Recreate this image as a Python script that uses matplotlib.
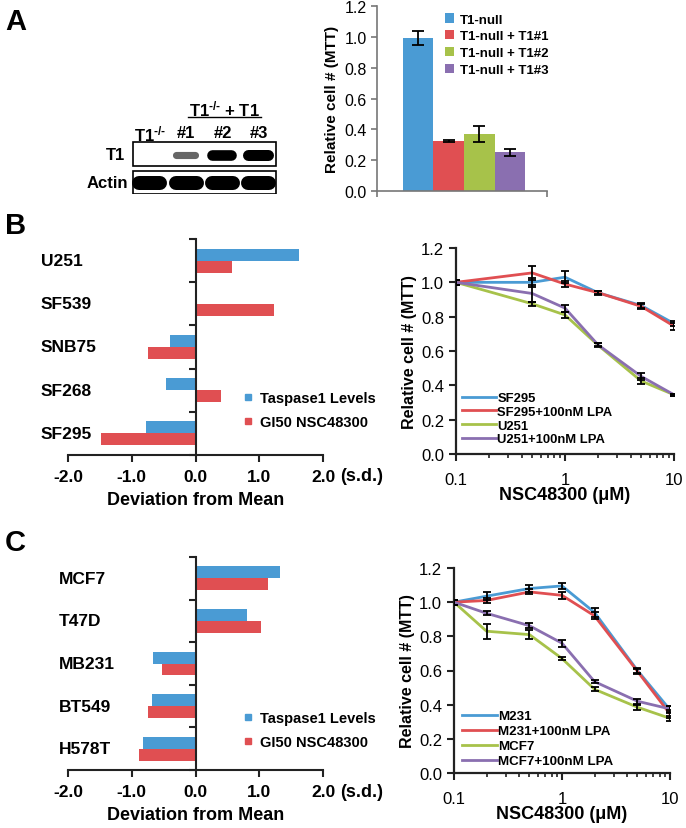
import matplotlib
matplotlib.use("Agg")
import matplotlib.pyplot as plt
from matplotlib.lines import Line2D
from matplotlib.patches import Rectangle
from matplotlib.transforms import blended_transform_factory

plt.rcParams['font.family'] = ['Liberation Sans', 'DejaVu Sans']
plt.rcParams['mathtext.fontset'] = 'custom'
plt.rcParams['mathtext.rm'] = 'Liberation Sans:bold'
plt.rcParams['mathtext.it'] = 'Liberation Sans:bold'
plt.rcParams['mathtext.bf'] = 'Liberation Sans:bold'
plt.rcParams['axes.unicode_minus'] = False

BLUE = '#4a9bd4'
RED = '#e04f52'
GREEN = '#a7c24a'
PURPLE = '#8a6fb0'

# ---- panel A data ----
a_labels = ['T1-null', 'T1-null + T1#1', 'T1-null + T1#2', 'T1-null + T1#3']
a_values = [0.99, 0.325, 0.37, 0.25]
a_errors = [0.045, 0.008, 0.05, 0.02]
blot_lanes = ['T1$^{\u2010/\u2010}$', '#1', '#2', '#3']
blot_t1 = [0.0, 0.45, 0.95, 1.0]
blot_actin = [1.0, 1.0, 1.0, 1.0]

# ---- panel B data ----
b_lines = ['U251', 'SF539', 'SNB75', 'SF268', 'SF295']
b_taspase = [1.62, 0.03, -0.40, -0.47, -0.77]
b_gi50 = [0.57, 1.23, -0.74, 0.40, -1.49]

b_dose = [0.1, 0.5, 1, 2, 5, 10]
b_series = ['SF295', 'SF295+100nM LPA', 'U251', 'U251+100nM LPA']
b_sf295 = [1.0, 1.0, 1.03, 0.94, 0.865, 0.76]
b_sf295_lpa = [1.0, 1.055, 0.99, 0.94, 0.86, 0.745]
b_u251 = [1.0, 0.875, 0.81, 0.635, 0.425, 0.345]
b_u251_lpa = [1.0, 0.935, 0.85, 0.637, 0.452, 0.345]
b_sf295_err = [0.015, 0.025, 0.035, 0.012, 0.015, 0.015]
b_sf295_lpa_err = [0.015, 0.04, 0.015, 0.01, 0.015, 0.02]
b_u251_err = [0.015, 0.01, 0.015, 0.01, 0.015, 0.005]
b_u251_lpa_err = [0.015, 0.05, 0.02, 0.01, 0.02, 0.005]

# ---- panel C data ----
c_lines = ['MCF7', 'T47D', 'MB231', 'BT549', 'H578T']
c_taspase = [1.33, 0.80, -0.67, -0.68, -0.82]
c_gi50 = [1.13, 1.02, -0.53, -0.75, -0.89]

c_dose = [0.1, 0.2, 0.5, 1, 2, 5, 10]
c_series = ['M231', 'M231+100nM LPA', 'MCF7', 'MCF7+100nM LPA']
c_m231 = [1.0, 1.035, 1.08, 1.095, 0.94, 0.6, 0.37]
c_m231_lpa = [1.0, 1.01, 1.06, 1.04, 0.92, 0.595, 0.345]
c_mcf7 = [1.0, 0.83, 0.81, 0.67, 0.49, 0.385, 0.32]
c_mcf7_lpa = [1.0, 0.935, 0.862, 0.76, 0.535, 0.42, 0.375]
c_m231_err = [0.015, 0.025, 0.02, 0.015, 0.025, 0.015, 0.02]
c_m231_lpa_err = [0.015, 0.015, 0.015, 0.02, 0.02, 0.015, 0.025]
c_mcf7_err = [0.015, 0.045, 0.025, 0.01, 0.012, 0.015, 0.015]
c_mcf7_lpa_err = [0.015, 0.012, 0.015, 0.02, 0.01, 0.015, 0.015]

W, H = 686, 829
fig = plt.figure(figsize=(W / 100, H / 100), dpi=100)


def px_axes(x0, y0, x1, y1):
    return fig.add_axes([x0 / W, 1 - y1 / H, (x1 - x0) / W, (y1 - y0) / H])


def fig_text(x, y, s, **kw):
    fig.text(x / W, 1 - y / H, s, **kw)


# panel letters
fig_text(5, 22, 'A', fontsize=21, fontweight='bold', va='center')
fig_text(5, 226, 'B', fontsize=21, fontweight='bold', va='center')
fig_text(5, 543, 'C', fontsize=21, fontweight='bold', va='center')

# ---------- A: western blot ----------
ax = px_axes(132, 142, 277, 195)
ax.set_xlim(0, 4)
ax.set_ylim(53, 0)
ax.axis('off')
ax.add_patch(Rectangle((0.02, 1), 3.96, 24, fill=False, lw=1.2, ec='black'))
ax.add_patch(Rectangle((0.02, 30), 3.96, 23, fill=False, lw=1.2, ec='black'))
for i, lvl in enumerate(blot_t1):
    if lvl > 0:
        ax.plot([i + 0.2, i + 0.74], [13.5, 13.5], lw=(4 + 7 * lvl) * 0.72,
                color='black', alpha=min(1, 0.15 + lvl), solid_capstyle='round')
for i, lvl in enumerate(blot_actin):
    ax.plot([i + 0.2, i + 0.78], [41.5, 41.5], lw=14 * 0.72 * lvl,
            color='black', solid_capstyle='round')
for i, lab in enumerate(blot_lanes):
    ax.text(i + 0.5, -8, lab, ha='center', va='center', fontsize=12,
            fontweight='bold', clip_on=False)
ax.text(2.55, -33, 'T1$^{\u2010/\u2010}$ + T1', ha='center', va='center', fontsize=12,
        fontweight='bold', clip_on=False)
ax.plot([1.55, 3.55], [-24, -24], color='black', lw=1, clip_on=False)
ax.text(-0.2, 13, 'T1', ha='right', va='center', fontsize=12, fontweight='bold')
ax.text(-0.1, 41.5, 'Actin', ha='right', va='center', fontsize=12, fontweight='bold')

# ---------- A: bar chart ----------
ax = px_axes(377, 7, 547, 192)
colors = [BLUE, RED, GREEN, PURPLE]
for i in range(len(a_values)):
    ax.bar(i, a_values[i], width=1.0, color=colors[i], label=a_labels[i])
    ax.errorbar(i, a_values[i], yerr=a_errors[i], color='black', capsize=4,
                elinewidth=1.3, capthick=1.3)
ax.set_xlim(-1.35, 4.22)
ax.set_ylim(0, 1.2)
ax.set_yticks([0, 0.2, 0.4, 0.6, 0.8, 1.0, 1.2])
ax.set_yticklabels(['%.1f' % v for v in [0, 0.2, 0.4, 0.6, 0.8, 1.0, 1.2]])
ax.set_xticks([-1.35, 4.22])
ax.set_xticklabels([])
for s in ['top', 'right']:
    ax.spines[s].set_visible(False)
for s in ['left', 'bottom']:
    ax.spines[s].set_color('#777777')
    ax.spines[s].set_linewidth(1.2)
ax.tick_params(direction='out', length=4, width=1.2, color='#777777', labelsize=11.5)
ax.set_ylabel('Relative cell # (MTT)', fontsize=11, fontweight='bold', labelpad=4)
ax.legend(loc='upper left', bbox_to_anchor=(0.4, 0.96), frameon=False,
          prop={'size': 9.5, 'weight': 'bold'}, handlelength=0.7, handleheight=0.7,
          handletextpad=0.4, labelspacing=0.35, borderaxespad=0, borderpad=0)


# ---------- deviation bar charts ----------
def deviation_chart(box, names, tas, gi, label_x, leg_y):
    ax = px_axes(*box)
    n = len(names)
    pos = [n - 1 - i for i in range(n)]
    ax.barh([p + 0.14 for p in pos], tas, height=0.28, color=BLUE, label='Taspase1 Levels')
    ax.barh([p - 0.14 for p in pos], gi, height=0.28, color=RED, label='GI50 NSC48300')
    ax.set_xlim(-2, 2)
    ax.set_ylim(-0.5, n - 0.5)
    ax.spines['left'].set_position(('data', 0))
    for s in ['top', 'right']:
        ax.spines[s].set_visible(False)
    for s in ['left', 'bottom']:
        ax.spines[s].set_linewidth(1.5)
        ax.spines[s].set_color('#222222')
    ax.set_yticks([p - 0.5 for p in range(n + 1)])
    ax.set_yticklabels([])
    ax.set_xticks([-2, -1, 0, 1, 2])
    ax.set_xticklabels(['-2.0', '-1.0', '0.0', '1.0', '2.0'])
    ax.tick_params(direction='out', length=5, width=1.5, color='#222222')
    ax.tick_params(axis='x', labelsize=12.5, pad=5)
    for lab in ax.get_xticklabels():
        lab.set_fontweight('bold')
    ax.set_xlabel('Deviation from Mean', fontsize=13, fontweight='bold', labelpad=5)
    tr = blended_transform_factory(fig.transFigure, ax.transData)
    for p, name in zip(pos, names):
        ax.text(label_x / W, p, name, transform=tr, ha='left', va='center',
                fontsize=12.5, fontweight='bold')
    handles = [Line2D([], [], marker='s', ls='none', ms=5, color=BLUE),
               Line2D([], [], marker='s', ls='none', ms=5, color=RED)]
    ax.legend(handles, ['Taspase1 Levels', 'GI50 NSC48300'], loc='upper left',
              bbox_to_anchor=(241 / W, 1 - leg_y / H), bbox_transform=fig.transFigure,
              frameon=False, prop={'size': 10.5, 'weight': 'bold'}, handlelength=1.0,
              handletextpad=0.3, labelspacing=0.7, borderaxespad=0, borderpad=0)
    return ax


ax = deviation_chart((68, 240, 323, 456), b_lines, b_taspase, b_gi50, 41, 392)
fig_text(362, 477, '(s.d.)', fontsize=13, fontweight='bold', ha='center', va='center')
ax = deviation_chart((68, 558, 323, 771), c_lines, c_taspase, c_gi50, 59, 712)
fig_text(362, 793, '(s.d.)', fontsize=13, fontweight='bold', ha='center', va='center')


# ---------- dose response charts ----------
def dose_chart(box, dose, series, names, errs, leg_y, fsize, spacing):
    ax = px_axes(*box)
    cols = [BLUE, RED, GREEN, PURPLE]
    for vals, err, name, col in zip(series, errs, names, cols):
        ax.plot(dose, vals, color=col, lw=2, label=name, zorder=3)
        ax.errorbar(dose, vals, yerr=err, fmt='none', ecolor='black', capsize=3,
                    elinewidth=1.3, capthick=1.3, zorder=4)
    ax.set_xscale('log')
    ax.set_xlim(0.1, 10)
    ax.set_ylim(0, 1.2)
    ax.set_xticks([0.1, 1, 10])
    ax.set_xticklabels(['0.1', '1', '10'])
    ax.set_yticks([0, 0.2, 0.4, 0.6, 0.8, 1.0, 1.2])
    ax.set_yticklabels(['%.1f' % v for v in [0, 0.2, 0.4, 0.6, 0.8, 1.0, 1.2]])
    for s in ['top', 'right']:
        ax.spines[s].set_visible(False)
    for s in ['left', 'bottom']:
        ax.spines[s].set_linewidth(1.6)
        ax.spines[s].set_color('#222222')
    ax.tick_params(which='major', direction='out', length=5, width=1.5,
                   color='#222222', labelsize=12)
    ax.tick_params(which='minor', direction='out', length=3, width=1.2, color='#222222')
    ax.tick_params(axis='x', pad=8)
    ax.set_ylabel('Relative cell # (MTT)', fontsize=11.5, fontweight='bold', labelpad=3)
    ax.set_xlabel('NSC48300 (\u03bcM)', fontsize=13, fontweight='bold', labelpad=-1)
    ax.legend(loc='upper left', bbox_to_anchor=(462 / W, 1 - leg_y / H),
              bbox_transform=fig.transFigure, frameon=False,
              prop={'size': fsize, 'weight': 'bold'}, handlelength=2.6,
              handletextpad=0.1, labelspacing=spacing, borderaxespad=0, borderpad=0)
    return ax


dose_chart((456, 249, 674, 455), b_dose, [b_sf295, b_sf295_lpa, b_u251, b_u251_lpa],
           b_series, [b_sf295_err, b_sf295_lpa_err, b_u251_err, b_u251_lpa_err], 393, 9.4, 0.12)
dose_chart((454, 569, 670, 774), c_dose, [c_m231, c_m231_lpa, c_mcf7, c_mcf7_lpa],
           c_series, [c_m231_err, c_m231_lpa_err, c_mcf7_err, c_mcf7_lpa_err], 711, 9.6, 0.2)

fig.savefig('out.png', dpi=100)
